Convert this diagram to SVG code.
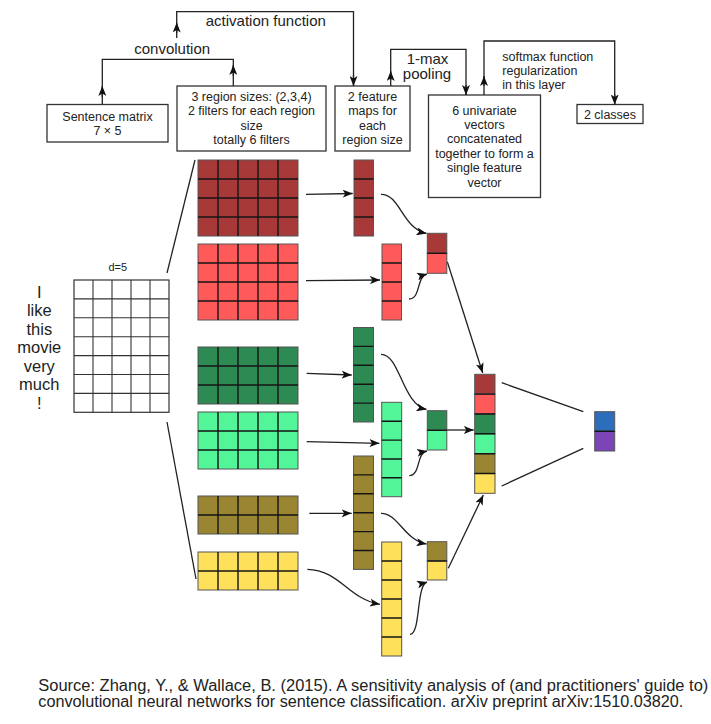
<svg xmlns="http://www.w3.org/2000/svg" width="711" height="724" viewBox="0 0 711 724">
<style>
text{font-family:"Liberation Sans",Arial,sans-serif;fill:#222}
.box{fill:#fff;stroke:#333;stroke-width:1.3}
.t13{font-size:12.5px;text-anchor:middle}
.t15{font-size:15px;text-anchor:middle}
.word{font-size:16.5px;text-anchor:middle}
.con{fill:none;stroke:#222;stroke-width:1.3}
.arr{fill:none;stroke:#222;stroke-width:1.3;marker-end:url(#ah)}
.cell{stroke:#555;stroke-width:1}
.grid{fill:none;stroke:#151515;stroke-width:1.4}
.mat{fill:#fff;stroke:#333;stroke-width:1.2}
.mgrid{fill:none;stroke:#333;stroke-width:1.1}
.dr{fill:#A83939}.lr{fill:#FF5A5A}.dg{fill:#2D8A53}.lg{fill:#52F597}.ol{fill:#9A8533}.yl{fill:#FFE05A}.bl{fill:#2C6EBB}.pu{fill:#7B45B8}
</style>
<defs>
<marker id="ah" viewBox="0 0 10 8" refX="10" refY="4" markerWidth="10" markerHeight="8" markerUnits="userSpaceOnUse" orient="auto">
<path d="M0,0 L10,4 L0,8 L2.5,4 z" fill="#111"/>
</marker>
</defs>

<g id="sentence-box">
<rect class="box" x="47" y="104.5" width="121" height="37.5"/>
<text class="t13" x="107.5" y="120.5">Sentence matrix</text>
<text class="t13" x="107.5" y="134.5">7 × 5</text>
</g>
<g id="filters-box">
<rect class="box" x="177" y="86" width="149" height="65"/>
<text class="t13" x="251.5" y="101">3 region sizes: (2,3,4)</text>
<text class="t13" x="251.5" y="115.3">2 filters for each region</text>
<text class="t13" x="251.5" y="129.6">size</text>
<text class="t13" x="251.5" y="144">totally 6 filters</text>
</g>
<g id="featuremaps-box">
<rect class="box" x="335" y="86" width="75" height="65"/>
<text class="t13" x="372.5" y="101">2 feature</text>
<text class="t13" x="372.5" y="115.3">maps for</text>
<text class="t13" x="372.5" y="129.6">each</text>
<text class="t13" x="372.5" y="144">region size</text>
</g>
<g id="univariate-box">
<rect class="box" x="428.5" y="95" width="112" height="102.5"/>
<text class="t13" x="484.5" y="114.5">6 univariate</text>
<text class="t13" x="484.5" y="128.9">vectors</text>
<text class="t13" x="484.5" y="143.3">concatenated</text>
<text class="t13" x="484.5" y="157.7">together to form a</text>
<text class="t13" x="484.5" y="172.1">single feature</text>
<text class="t13" x="484.5" y="186.5">vector</text>
</g>
<g id="classes-box">
<rect class="box" x="577" y="104.5" width="66" height="19"/>
<text class="t13" x="610" y="118.5">2 classes</text>
</g>

<g id="labels">
<text class="t15" x="172.2" y="53.5">convolution</text>
<text class="t15" x="265.8" y="26">activation function</text>
<text class="t15" x="427.5" y="63.5">1-max</text>
<text class="t15" x="427" y="79">pooling</text>
<text style="font-size:12.5px" x="502.3" y="60.5">softmax function</text>
<text style="font-size:12.5px" x="502.3" y="74.7">regularization</text>
<text style="font-size:12.5px" x="502.3" y="88.9">in this layer</text>
</g>

<g id="connectors">
<path class="con" d="M102.3,104.5 V59.3 H233.3 V86"/>
<path class="arr" d="M102.3,97 V86"/>
<path class="arr" d="M233.3,76 V65"/>
<path class="con" d="M176.7,38 V11.7 H353.5 V86"/>
<path class="arr" d="M176.7,33 V22.5"/>
<path class="arr" d="M353.5,75 V86"/>
<path class="con" d="M390.7,86 V49.3 H466 V95"/>
<path class="arr" d="M390.7,80 V71"/>
<path class="arr" d="M466,85 V95"/>
<path class="con" d="M484,95 V41 H614.7 V104.5"/>
<path class="arr" d="M484,86 V76"/>
<path class="arr" d="M614.7,94 V104.5"/>

<path class="con" d="M167,273 L195,160"/>
<path class="con" d="M167,422 L196,579"/>

<path class="arr" d="M306,194.3 L352.7,193.5"/>
<path class="arr" d="M306,280.7 L380,280"/>
<path class="arr" d="M306.7,373.3 L351.7,375"/>
<path class="arr" d="M306.7,441.7 L379.5,443.3"/>
<path class="arr" d="M309.3,513.3 L351.7,513.3"/>
<path class="arr" d="M307.3,569.3 C340,570 348,599 380,604.3"/>

<path class="arr" d="M381,194.3 C400,194 402,228 426.5,233.5"/>
<path class="arr" d="M409,299 C421,299 416,277 427,274"/>
<path class="arr" d="M381,354.3 C400,354 402,404 426.5,409.5"/>
<path class="arr" d="M409.3,475.7 C421,475 416,453 427,451"/>
<path class="arr" d="M381,513.3 C398,513 404,540 426.5,544"/>
<path class="arr" d="M410,634.3 C421,634 416,585 427,582"/>

<path class="arr" d="M447.3,261.7 L482.7,373"/>
<path class="arr" d="M446.7,430 L473.8,430"/>
<path class="arr" d="M448.3,568.3 L483.3,495"/>

<path class="con" d="M501.7,382.7 L583.3,411.7"/>
<path class="con" d="M501.7,486 L583.3,448.3"/>
</g>

<g id="sentence-matrix">
<text style="font-size:11px;text-anchor:middle" x="117.8" y="270.5">d=5</text>
<text class="word" x="39.3" y="297.5">I</text>
<text class="word" x="39.3" y="316">like</text>
<text class="word" x="39.3" y="334.5">this</text>
<text class="word" x="39.3" y="353">movie</text>
<text class="word" x="39.3" y="371.5">very</text>
<text class="word" x="39.3" y="390">much</text>
<text class="word" x="39.3" y="408.5">!</text>
<rect class="mat" x="74" y="280" width="95" height="132.3"/>
<path class="mgrid" d="M93,280V412.3M112,280V412.3M131,280V412.3M150,280V412.3M74,298.9H169M74,317.8H169M74,336.7H169M74,355.6H169M74,374.5H169M74,393.4H169"/>
</g>

<g id="filter-dark-red">
<rect class="cell dr" x="198" y="160" width="100" height="76"/>
<path class="grid" d="M218,160V236M238,160V236M258,160V236M278,160V236M198,179H298M198,198H298M198,217H298"/>
</g>
<g id="filter-light-red">
<rect class="cell lr" x="198" y="244" width="100" height="76"/>
<path class="grid" d="M218,244V320M238,244V320M258,244V320M278,244V320M198,263H298M198,282H298M198,301H298"/>
</g>
<g id="filter-dark-green">
<rect class="cell dg" x="198" y="347" width="100" height="57"/>
<path class="grid" d="M218,347V404M238,347V404M258,347V404M278,347V404M198,366H298M198,385H298"/>
</g>
<g id="filter-light-green">
<rect class="cell lg" x="198" y="412" width="100" height="57"/>
<path class="grid" d="M218,412V469M238,412V469M258,412V469M278,412V469M198,431H298M198,450H298"/>
</g>
<g id="filter-olive">
<rect class="cell ol" x="198" y="496" width="100" height="38"/>
<path class="grid" d="M218,496V534M238,496V534M258,496V534M278,496V534M198,515H298"/>
</g>
<g id="filter-yellow">
<rect class="cell yl" x="198" y="552" width="100" height="38"/>
<path class="grid" d="M218,552V590M238,552V590M258,552V590M278,552V590M198,571H298"/>
</g>

<g id="map-dark-red">
<rect class="cell dr" x="354" y="160" width="19.5" height="76"/>
<path class="grid" d="M354,179H373.5M354,198H373.5M354,217H373.5"/>
</g>
<g id="map-light-red">
<rect class="cell lr" x="382" y="244" width="19.5" height="76"/>
<path class="grid" d="M382,263H401.5M382,282H401.5M382,301H401.5"/>
</g>
<g id="map-dark-green">
<rect class="cell dg" x="353.5" y="327.5" width="20" height="94.5"/>
<path class="grid" d="M353.5,346.4H373.5M353.5,365.3H373.5M353.5,384.2H373.5M353.5,403.1H373.5"/>
</g>
<g id="map-light-green">
<rect class="cell lg" x="381.7" y="402.3" width="20" height="94.4"/>
<path class="grid" d="M381.7,421.2H401.7M381.7,440.1H401.7M381.7,459H401.7M381.7,477.8H401.7"/>
</g>
<g id="map-olive">
<rect class="cell ol" x="353.5" y="456" width="20" height="113.4"/>
<path class="grid" d="M353.5,474.9H373.5M353.5,493.8H373.5M353.5,512.7H373.5M353.5,531.6H373.5M353.5,550.5H373.5"/>
</g>
<g id="map-yellow">
<rect class="cell yl" x="381.7" y="542" width="20" height="114"/>
<path class="grid" d="M381.7,561H401.7M381.7,580H401.7M381.7,599H401.7M381.7,618H401.7M381.7,637H401.7"/>
</g>

<g id="pooled-red">
<rect class="cell dr" x="427.3" y="233.3" width="19.5" height="20"/>
<rect class="cell lr" x="427.3" y="253.3" width="19.5" height="20"/>
<path class="grid" d="M427.3,253.3H446.8"/>
</g>
<g id="pooled-green">
<rect class="cell dg" x="427.3" y="410.7" width="19.5" height="19.6"/>
<rect class="cell lg" x="427.3" y="430.3" width="19.5" height="19.7"/>
<path class="grid" d="M427.3,430.3H446.8"/>
</g>
<g id="pooled-olive">
<rect class="cell ol" x="427.3" y="541.7" width="19.5" height="19.3"/>
<rect class="cell yl" x="427.3" y="561" width="19.5" height="19"/>
<path class="grid" d="M427.3,561H446.8"/>
</g>

<g id="concat-vector">
<rect class="cell dr" x="474.7" y="374.3" width="20.3" height="19.8"/>
<rect class="cell lr" x="474.7" y="394.1" width="20.3" height="19.9"/>
<rect class="cell dg" x="474.7" y="414" width="20.3" height="19.8"/>
<rect class="cell lg" x="474.7" y="433.8" width="20.3" height="19.9"/>
<rect class="cell ol" x="474.7" y="453.7" width="20.3" height="19.8"/>
<rect class="cell yl" x="474.7" y="473.5" width="20.3" height="19.8"/>
<path class="grid" d="M474.7,394.1H495M474.7,414H495M474.7,433.8H495M474.7,453.7H495M474.7,473.5H495"/>
</g>

<g id="output">
<rect class="cell bl" x="594.7" y="411.7" width="20" height="19.6"/>
<rect class="cell pu" x="594.7" y="431.3" width="20" height="19.7"/>
<path class="grid" d="M594.7,431.3H614.7"/>
</g>

<g id="source">
<text style="font-size:16px" x="38.3" y="691" textLength="670" lengthAdjust="spacingAndGlyphs">Source: Zhang, Y., &amp; Wallace, B. (2015). A sensitivity analysis of (and practitioners' guide to)</text>
<text style="font-size:16px" x="38.3" y="707" textLength="645" lengthAdjust="spacingAndGlyphs">convolutional neural networks for sentence classification. arXiv preprint arXiv:1510.03820.</text>
</g>
</svg>
